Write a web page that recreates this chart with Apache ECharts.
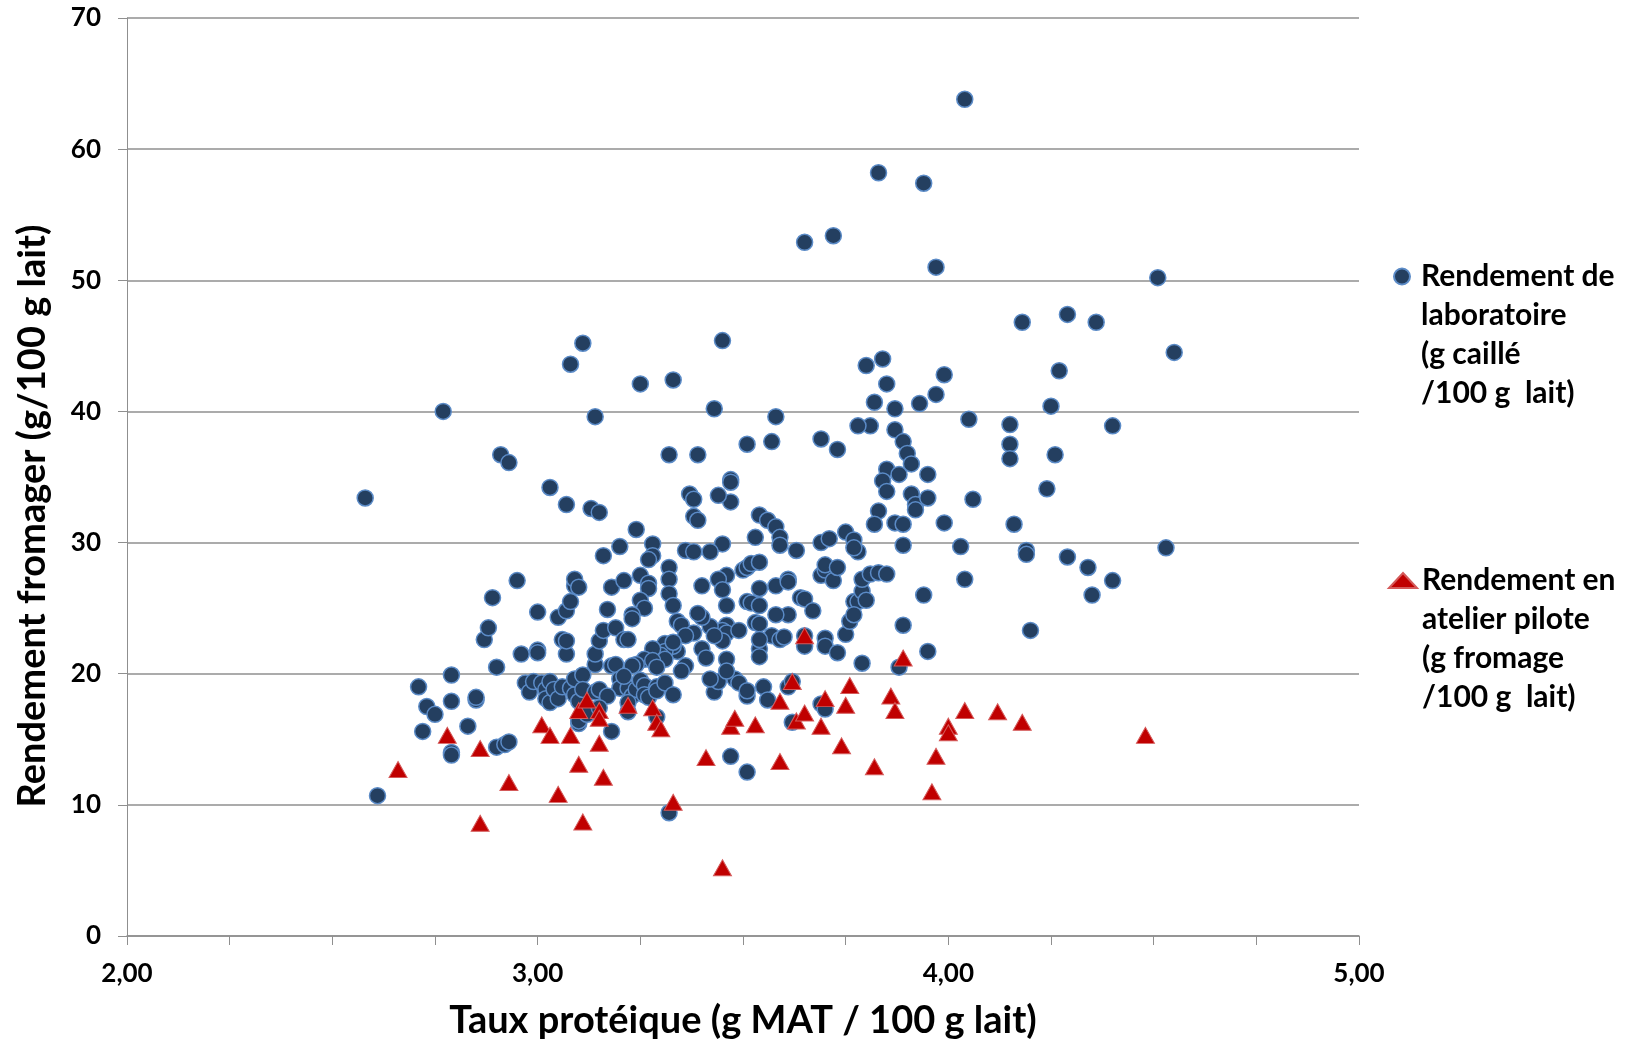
<!DOCTYPE html>
<html>
<head>
<meta charset="utf-8">
<script src="https://cdn.jsdelivr.net/npm/echarts@6/dist/echarts.min.js"></script>
<style>
html,body{margin:0;padding:0;background:#fff;}
#c{width:1633px;height:1045px;}
</style>
</head>
<body>
<div id="c"></div>
<script>
// Series names
const labName = 'Rendement de\nlaboratoire\n(g caillé\n/100 g  lait)';
const pilotName = 'Rendement en\natelier pilote\n(g fromage\n/100 g  lait)';

// Axis labels
const xTitle = 'Taux protéique (g MAT / 100 g lait)';
const yTitle = 'Rendement fromager (g/100 g lait)';

// Laboratory yield: protein (x) and yield (y)
const labProtein = [
4.04,3.83,3.94,3.65,3.72,3.97,4.51,4.18,4.29,4.36,4.55,3.45,3.11,3.08,3.25,3.33,3.80,3.84,3.85,3.99,
4.27,4.25,2.77,3.14,3.43,3.58,3.82,3.93,3.97,3.81,3.78,3.87,4.05,4.15,4.40,4.15,4.15,4.26,2.91,2.93,
3.32,3.39,3.51,3.57,3.69,3.73,3.89,3.90,3.85,3.84,3.85,3.88,3.91,3.95,3.91,3.92,3.92,3.95,4.06,4.24,
3.03,3.37,3.38,3.47,3.47,3.47,3.44,3.07,3.13,3.15,3.38,3.39,3.54,3.56,3.58,3.24,3.83,3.82,3.87,3.89,
4.16,3.99,3.28,3.16,3.20,3.45,3.53,3.59,3.59,3.63,3.69,3.71,3.75,3.77,3.78,3.77,3.89,4.03,4.19,4.19,
4.29,4.34,4.53,4.35,4.40,4.04,3.94,3.89,3.95,3.88,4.20,3.28,3.27,3.32,3.25,3.27,3.27,3.25,3.26,3.23,
3.23,3.32,3.32,3.33,3.34,3.35,3.36,3.38,3.42,3.46,3.40,3.44,3.45,3.50,3.51,3.52,3.54,3.54,3.58,3.61,
3.61,3.64,3.65,3.69,3.70,3.70,3.72,3.73,3.77,3.78,3.79,3.79,3.81,3.83,3.85,3.80,3.67,3.61,3.58,3.53,
3.57,3.59,3.54,3.51,3.52,3.54,3.46,3.46,3.45,3.46,3.49,3.45,3.42,3.40,3.39,3.38,3.36,3.43,3.40,3.41,
3.46,3.36,3.34,3.33,3.31,3.31,3.30,3.28,3.29,3.26,3.24,3.31,3.54,3.54,3.60,3.65,3.65,3.70,3.70,3.73,
3.75,3.76,3.77,3.79,3.48,3.49,3.51,3.55,3.62,3.69,3.70,3.47,3.51,3.32,3.87,
2.58,2.61,2.71,2.73,2.75,2.72,2.79,2.79,2.79,2.79,2.85,2.85,2.83,2.87,2.88,2.89,2.90,2.90,2.92,2.93,
2.95,2.96,2.97,2.98,3.00,3.00,3.00,2.99,3.01,3.02,3.02,3.03,3.03,3.04,3.05,3.06,3.05,3.06,3.07,3.07,
3.08,3.09,3.09,3.10,3.07,3.08,3.09,3.09,3.11,3.10,3.11,3.14,3.15,3.12,3.14,3.14,3.15,3.16,3.17,3.18,
3.18,3.19,3.19,3.20,3.20,3.21,3.21,3.23,3.22,3.22,3.21,3.23,3.24,3.25,3.26,3.26,3.27,3.29,3.29,3.22,
3.18,3.22,3.10,3.10,3.12,3.29,3.31,3.33,3.28,3.29,3.17,3.15,3.33,3.43,3.44,3.42,3.46,3.54,3.56,3.61,
3.62,3.51,3.35
];
const labYield = [
63.8,58.2,57.4,52.9,53.4,51.0,50.2,46.8,47.4,46.8,44.5,45.4,45.2,43.6,42.1,42.4,43.5,44.0,42.1,42.8,
43.1,40.4,40.0,39.6,40.2,39.6,40.7,40.6,41.3,38.9,38.9,38.6,39.4,39.0,38.9,37.5,36.4,36.7,36.7,36.1,
36.7,36.7,37.5,37.7,37.9,37.1,37.7,36.8,35.6,34.7,33.9,35.2,36.0,35.2,33.7,32.9,32.5,33.4,33.3,34.1,
34.2,33.7,33.3,34.8,34.6,33.1,33.6,32.9,32.6,32.3,32.0,31.7,32.1,31.7,31.2,31.0,32.4,31.4,31.5,31.4,
31.4,31.5,29.9,29.0,29.7,29.9,30.4,30.4,29.8,29.4,30.0,30.3,30.8,30.2,29.3,29.6,29.8,29.7,29.4,29.1,
28.9,28.1,29.6,26.0,27.1,27.2,26.0,23.7,21.7,20.5,23.3,29.0,28.7,28.1,27.5,26.9,26.5,25.6,25.0,24.5,
24.2,27.2,26.1,25.2,24.0,23.7,29.4,29.3,29.3,27.5,26.7,27.2,26.4,27.9,28.1,28.4,28.5,26.5,26.7,27.2,
27.0,25.8,25.7,27.5,27.9,28.3,27.1,28.1,25.5,25.5,26.3,27.2,27.6,27.7,27.6,25.6,24.8,24.5,24.5,23.9,
22.9,22.6,23.8,25.5,25.4,25.2,25.2,23.7,23.3,23.1,23.3,22.5,23.6,24.3,24.6,23.1,22.9,22.9,21.9,21.2,
21.1,20.6,21.7,22.1,22.3,21.7,21.4,21.9,20.6,21.1,20.7,21.1,21.9,22.6,22.8,22.9,22.1,22.7,22.1,21.6,
23.0,24.0,24.5,20.8,19.6,19.3,18.3,19.0,16.3,17.7,17.3,13.7,12.5,9.4,40.2,
33.4,10.7,19.0,17.5,16.9,15.6,17.9,19.9,14.0,13.8,18.0,18.2,16.0,22.6,23.5,25.8,20.5,14.4,14.6,14.8,
27.1,21.5,19.3,18.6,24.7,21.8,21.6,19.4,19.3,18.8,18.1,17.8,19.4,18.8,18.1,19.0,24.3,22.6,21.5,24.8,
25.5,26.7,27.2,26.6,22.5,18.9,18.4,19.6,19.9,17.9,18.8,18.6,18.8,17.4,20.7,21.5,22.5,23.3,24.9,26.6,
20.6,23.5,20.7,19.6,18.9,22.6,27.1,20.6,22.6,18.9,19.8,18.3,18.8,19.5,19.1,18.4,18.2,19.0,16.7,17.8,
15.6,17.1,16.2,16.4,16.9,18.7,19.3,18.4,21.0,20.5,18.3,17.4,22.4,18.6,19.4,19.6,20.2,21.3,18.0,19.0,
19.4,18.7,20.2
];

// Pilot workshop yield: protein (x) and yield (y)
const pilotProtein = [
2.66,2.78,2.86,2.86,2.93,3.01,3.03,3.05,3.08,3.10,3.10,3.11,3.12,3.15,3.15,3.15,3.16,3.22,3.28,3.29,
3.30,3.33,3.41,3.45,3.47,3.48,3.53,3.59,3.59,3.62,3.63,3.65,3.65,3.69,3.70,3.74,3.75,3.76,3.82,3.86,
3.87,3.89,3.96,3.97,4.00,4.00,4.04,4.12,4.18,4.48
];
const pilotYield = [
12.7,15.3,14.3,8.6,11.7,16.1,15.3,10.8,15.3,17.2,13.1,8.7,18.0,17.2,16.6,14.7,12.1,17.6,17.4,16.3,
15.8,10.2,13.6,5.2,16.0,16.6,16.1,17.9,13.3,19.4,16.4,17.0,22.9,16.0,18.1,14.5,17.6,19.1,12.9,18.3,
17.2,21.2,11.0,13.7,16.0,15.5,17.2,17.1,16.3,15.3
];

// Axis scales
const xMin = 2, xMax = 5, xStep = 0.25;
const yMin = 0, yMax = 70, yStep = 10;

const labData = labProtein.map((x, i) => [x, labYield[i]]);
const pilotData = pilotProtein.map((x, i) => [x, pilotYield[i]]);

const FONT = 'Lato';
const GRID = '#8f8f8f';

const chart = echarts.init(document.getElementById('c'), null, {renderer: 'canvas'});
const legendText = {
  fontFamily: FONT, fontWeight: 'bold', fontSize: 30, color: '#000', lineHeight: 39
};
// three leading blank lines put the icon level with the first text line
const legendFmt = name => '\n\n\n' + name;
chart.setOption({
  animation: false,
  backgroundColor: '#fff',
  grid: {left: 127, right: 274, top: 18, bottom: 108, containLabel: false},
  legend: [
    {data: [labName], left: 1393, top: 140, orient: 'vertical', padding: 0,
     itemWidth: 28, itemHeight: 16, formatter: legendFmt, textStyle: legendText},
    {data: [pilotName], left: 1388, top: 444, orient: 'vertical', padding: 0,
     itemWidth: 28, itemHeight: 15, formatter: legendFmt, textStyle: legendText}
  ],
  xAxis: {
    type: 'value', min: xMin, max: xMax, interval: xStep,
    name: xTitle, nameLocation: 'middle', nameGap: 66,
    nameTextStyle: {fontFamily: FONT, fontWeight: 'bold', fontSize: 38, color: '#000'},
    axisLine: {show: true, onZero: false, lineStyle: {color: GRID, width: 1.5}},
    axisTick: {show: true, inside: false, length: 9, lineStyle: {color: GRID, width: 1}},
    splitLine: {show: false},
    axisLabel: {
      margin: 25, fontFamily: FONT, fontWeight: 'bold', fontSize: 26, color: '#000',
      formatter: v => (Math.abs(v - Math.round(v)) < 1e-9 ? v.toFixed(2).replace('.', ',') : '')
    }
  },
  yAxis: {
    type: 'value', min: yMin, max: yMax, interval: yStep,
    name: yTitle, nameLocation: 'middle', nameGap: 75, nameRotate: 90,
    nameTextStyle: {fontFamily: FONT, fontWeight: 'bold', fontSize: 38, color: '#000', padding: [0, 78, 0, 0]},
    axisLine: {show: true, lineStyle: {color: GRID, width: 1}},
    axisTick: {show: true, inside: false, length: 9, lineStyle: {color: GRID, width: 1}},
    splitLine: {show: true, lineStyle: {color: GRID, width: 1.5}},
    axisLabel: {margin: 26, fontFamily: FONT, fontWeight: 'bold', fontSize: 26, color: '#000'}
  },
  series: [
    {
      name: labName, type: 'scatter', data: labData, symbol: 'circle', symbolSize: 16,
      itemStyle: {color: '#243F60', borderColor: '#5B8BC7', borderWidth: 1.5, opacity: 1}
    },
    {
      name: pilotName, type: 'scatter', data: pilotData, symbol: 'triangle', symbolSize: [18, 16],
      itemStyle: {color: '#C00000', borderColor: '#D45A5A', borderWidth: 1, opacity: 1}
    }
  ]
});
</script>
</body>
</html>
